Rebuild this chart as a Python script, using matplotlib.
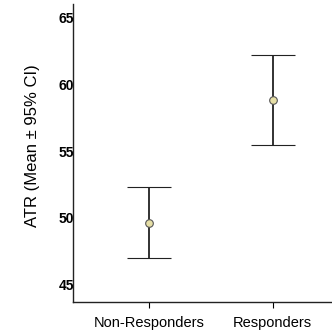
import matplotlib
matplotlib.use("Agg")
import matplotlib.pyplot as plt

groups = ["Non-Responders", "Responders"]
means = [49.64, 58.83]
ci_low = [46.97, 55.50]
ci_high = [52.35, 62.25]

plt.rcParams['font.family'] = ['Liberation Sans', 'DejaVu Sans']

fig = plt.figure(figsize=(3.32, 3.30), dpi=100)
ax = fig.add_axes([72.7 / 332, (330 - 301.7) / 330, (332 - 72.7) / 332, (301.7 - 4) / 330])

x = list(range(len(groups)))
yerr = [[m - lo for m, lo in zip(means, ci_low)], [hi - m for m, hi in zip(means, ci_high)]]
ax.errorbar(x, means, yerr=yerr, fmt='o', color='#222222', ecolor='#222222',
            elinewidth=1.3, capsize=15.5, capthick=1.6,
            markersize=5.5, markerfacecolor='#e6dfa6', markeredgecolor='#555555', markeredgewidth=0.8)

ax.set_xlim(-0.613, 1.478)
ax.set_ylim(43.72, 66.05)
ax.set_yticks([45, 50, 55, 60, 65])
ax.set_xticks(x)
ax.set_xticklabels(groups, fontsize=10.5)
for lbl in ax.get_yticklabels():
    lbl.set_fontweight('bold')
    lbl.set_fontsize(10)
ax.tick_params(axis='y', length=0, pad=-1)
ax.tick_params(axis='x', length=4, width=0.8, pad=6)
ax.set_ylabel("ATR (Mean ± 95% CI)", fontsize=12)
ax.yaxis.set_label_coords(-0.127, 0.523)

for s in ['top', 'right']:
    ax.spines[s].set_visible(False)
for s in ['left', 'bottom']:
    ax.spines[s].set_linewidth(1.0)
    ax.spines[s].set_color('#222222')

fig.savefig("out.png", dpi=100)
